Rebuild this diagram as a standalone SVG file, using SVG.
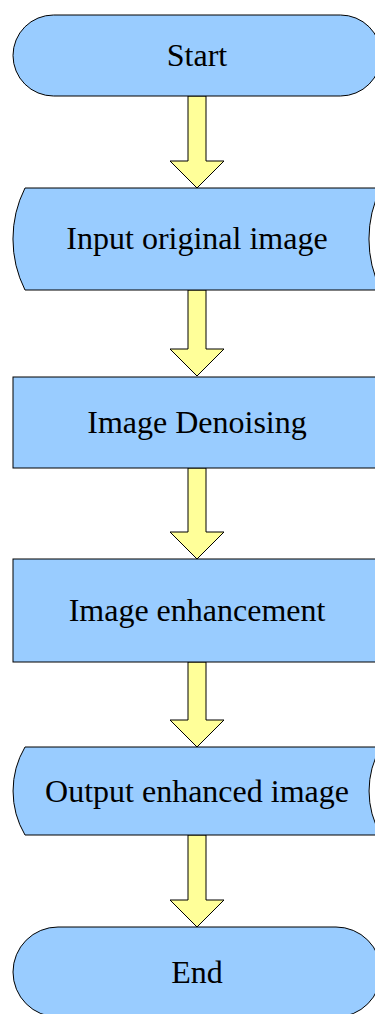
<svg xmlns="http://www.w3.org/2000/svg" width="375" height="1014" viewBox="0 0 375 1014">
  <style>
    .node { fill: #99ccff; stroke: #000; stroke-width: 1; }
    .flow { fill: #ffff99; stroke: #000; stroke-width: 1; stroke-linejoin: miter; }
    .label { font-family: "Liberation Serif", "Times New Roman", serif; font-size: 32px; fill: #000; text-anchor: middle; }
  </style>
  <rect width="375" height="1014" fill="#fff"/>

  <!-- block arrows between steps -->
  <g id="connectors">
    <polygon class="flow" points="188,96 206,96 206,161 224,161 197,188 170,161 188,161"/>
    <polygon class="flow" points="188,290 206,290 206,349 224,349 197,376 170,349 188,349"/>
    <polygon class="flow" points="188,468 206,468 206,532 224,532 197,559 170,532 188,532"/>
    <polygon class="flow" points="188,662 206,662 206,720 224,720 197,747 170,720 188,720"/>
    <polygon class="flow" points="188,835 206,835 206,900 224,900 197,927 170,900 188,900"/>
  </g>

  <g id="start">
    <rect class="node" x="13" y="15" width="368" height="81" rx="40.5" ry="40.5"/>
    <text class="label" x="197" y="66">Start</text>
  </g>

  <g id="input">
    <path class="node" d="M25,188 H381 A114,114 0 0 0 381,290 H25 A114,114 0 0 1 25,188 Z"/>
    <text class="label" x="197" y="249">Input original image</text>
  </g>

  <g id="denoise">
    <rect class="node" x="13" y="377" width="368" height="91"/>
    <text class="label" x="197" y="433">Image Denoising</text>
  </g>

  <g id="enhance">
    <rect class="node" x="13" y="559" width="368" height="103"/>
    <text class="label" x="197" y="621">Image enhancement</text>
  </g>

  <g id="output">
    <path class="node" d="M25,747 H381 A87,87 0 0 0 381,835 H25 A87,87 0 0 1 25,747 Z"/>
    <text class="label" x="197" y="802">Output enhanced image</text>
  </g>

  <g id="end">
    <rect class="node" x="13" y="927" width="368" height="90" rx="45" ry="45"/>
    <text class="label" x="197" y="983">End</text>
  </g>
</svg>
